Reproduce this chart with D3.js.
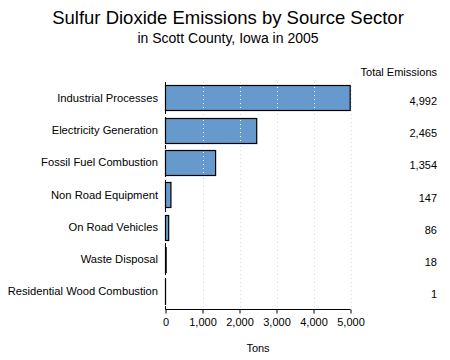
<!DOCTYPE html>
<html><head><meta charset="utf-8">
<script src="https://cdn.jsdelivr.net/npm/d3@7"></script>
<style>
body{margin:0;background:#fff;}
svg{display:block;font-family:"Liberation Sans",Arial,sans-serif;}
</style></head>
<body><svg id="c" width="450" height="360"></svg>
<script>
const categories = ["Industrial Processes","Electricity Generation","Fossil Fuel Combustion","Non Road Equipment","On Road Vehicles","Waste Disposal","Residential Wood Combustion"];
const values = [4992, 2465, 1354, 147, 86, 18, 1];
const xTicks = [0, 1000, 2000, 3000, 4000, 5000];
const title = "Sulfur Dioxide Emissions by Source Sector";
const subtitle = "in Scott County, Iowa in 2005";

const svg = d3.select("#c");
const x = d3.scaleLinear().domain([0, 5000]).range([165.5, 350.5]);
const y = d3.scaleBand().domain(categories).range([81.5, 307.5]).paddingInner(0.24).paddingOuter(0.12);
const axisY = 309.5;

svg.append("text").attr("x", 228).attr("y", 24).attr("text-anchor", "middle")
  .style("font-size", "18.5px").text(title);
svg.append("text").attr("x", 228).attr("y", 43).attr("text-anchor", "middle")
  .style("font-size", "14px").text(subtitle);

// background grid
svg.append("g").selectAll("line").data(xTicks.slice(1)).join("line")
  .attr("x1", d => Math.round(x(d)) + 0.5).attr("x2", d => Math.round(x(d)) + 0.5)
  .attr("y1", 82).attr("y2", axisY)
  .attr("stroke", "#d8d8d8").attr("stroke-dasharray", "1,3");

// bars
svg.append("g").selectAll("rect").data(categories).join("rect")
  .attr("x", x(0)).attr("y", d => Math.round(y(d)) + 0.5)
  .attr("width", (d, i) => Math.max(0, x(values[i]) - x(0)))
  .attr("height", Math.round(y.bandwidth()))
  .attr("fill", "#6699cc").attr("stroke", "#000").attr("stroke-width", 1.2);

// white grid over bars
const g2 = svg.append("g");
categories.forEach((c, i) => {
  xTicks.slice(1).forEach(t => {
    if (t < values[i]) {
      g2.append("line")
        .attr("x1", Math.round(x(t)) + 0.5).attr("x2", Math.round(x(t)) + 0.5)
        .attr("y1", Math.round(y(c)) + 2).attr("y2", Math.round(y(c)) + Math.round(y.bandwidth()) - 1)
        .attr("stroke", "#fff").attr("stroke-dasharray", "1,3");
    }
  });
});

// left dashed axis
svg.append("line").attr("x1", x(0)).attr("x2", x(0)).attr("y1", 82).attr("y2", axisY)
  .attr("stroke", "#000").attr("stroke-dasharray", "4,3");

// x axis
const xa = svg.append("g").attr("transform", `translate(0,${axisY})`)
  .call(d3.axisBottom(x).tickValues(xTicks).tickSize(4).tickFormat(d3.format(",")));
xa.select(".domain").attr("stroke", "#000").attr("stroke-width", 1.2).attr("d", `M${x(0)},0H${x(5000)}`);
xa.selectAll(".tick line").attr("stroke", "#000");
xa.selectAll("text").style("font-size", "11px").style("font-family", "Liberation Sans, Arial, sans-serif").attr("y", 9).attr("fill", "#000");

svg.append("text").attr("x", x(2500)).attr("y", 352).attr("text-anchor", "middle")
  .style("font-size", "11px").text("Tons");

// category labels
svg.append("g").selectAll("text").data(categories).join("text")
  .attr("x", 158).attr("y", d => y(d) + y.bandwidth() / 2 + 4)
  .attr("text-anchor", "end").style("font-size", "11.2px").text(d => d);

// value column
svg.append("text").attr("x", 437).attr("y", 76).attr("text-anchor", "end")
  .style("font-size", "11px").text("Total Emissions");
svg.append("g").selectAll("text").data(categories).join("text")
  .attr("x", 437).attr("y", d => y(d) + y.bandwidth() / 2 + 7)
  .attr("text-anchor", "end").style("font-size", "11px")
  .text((d, i) => d3.format(",")(values[i]));
</script></body></html>
